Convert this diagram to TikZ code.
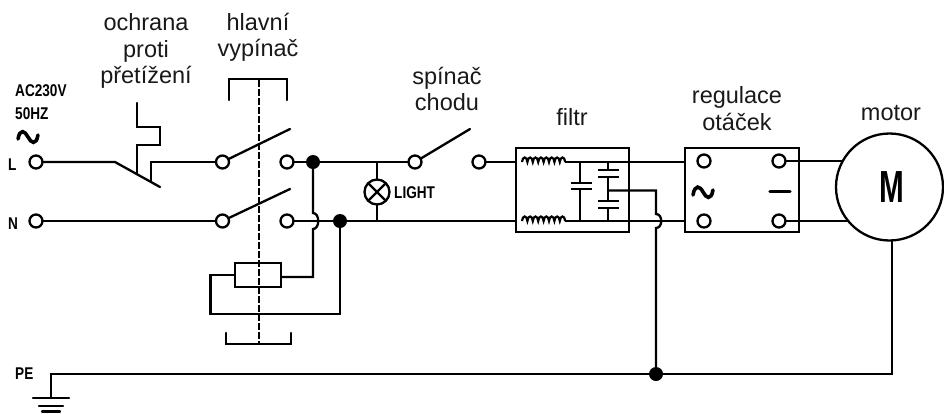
\documentclass[tikz,border=0pt]{standalone}
\usepackage{fontspec}
\setmainfont{Liberation Sans}
\newcommand{\lbl}{\fontsize{23.5}{26}\selectfont}
\newcommand{\bsm}[1]{\scalebox{0.8}[1]{\fontsize{17}{19}\selectfont\bfseries #1}}
\tikzset{
  wire/.style={line width=2.3pt,line cap=round,line join=miter},
  thinwire/.style={line width=2pt,line cap=butt},
  term/.style={circle,draw,line width=2.3pt,fill=white,minimum size=13pt,inner sep=0pt,outer sep=0pt},
  dotnode/.style={circle,fill=black,minimum size=14pt,inner sep=0pt,outer sep=0pt},
  caption/.style={anchor=base,inner sep=0pt,text=black!90,font=\lbl},
  tag/.style={anchor=base west,inner sep=0pt},
  boxrect/.style={draw,line width=2.4pt,minimum width=0pt,inner sep=0pt},
  plate/.style={line width=2.2pt},
  mechanical/.style={line width=1.1pt,dash pattern=on 7pt off 2pt}
}
\begin{document}
\begin{tikzpicture}[x=1pt,y=-1pt]
\useasboundingbox (0,0) rectangle (944,413);
% mechanical link
\coordinate (mt) at (259,80); \coordinate (mb) at (259,343);
\draw[mechanical] (mt) -- (mb);
\draw[wire] (229,100) -- (229,79) -- (287,79) -- (287,100);
\draw[wire] (226,333) -- (226,344) -- (291,344) -- (291,333);
% terminals
\node[term] (L) at (36,162) {};
\node[term] (N) at (36,221) {};
\node[term] (s1a) at (222.5,162) {};
\node[term] (s1b) at (287,162) {};
\node[term] (s2a) at (222.5,221) {};
\node[term] (s2b) at (287,221) {};
\node[term] (s3a) at (415,162) {};
\node[term] (s3b) at (479,162) {};
\node[dotnode] (j1) at (313,162) {};
\node[dotnode] (j2) at (340,221) {};
\node[dotnode] (j3) at (656,374) {};
% overload protection
\coordinate (ol1) at (115,162); \coordinate (ol2) at (160,187);
\draw[wire] (L) -- (ol1) -- (ol2);
\draw[wire] (137,103) -- (137,127) -- (160,127) -- (160,145) -- (137,145) -- (137,174);
\draw[wire] (151,181) -- (151,162) -- (s1a);
\draw[wire] (N) -- (s2a);
% switches
\draw[wire] (s1a) -- (290,129);
\draw[wire] (s2a) -- (290,189);
\draw[wire] (s3a) -- (470,129);
% main lines
\draw[wire] (s1b) -- (j1) -- (s3a);
\draw[wire] (s2b) -- (j2) -- (516,221);
\draw[wire] (s3b) -- (516,162);
% jump to heater
\node[boxrect,minimum width=46pt,minimum height=24pt] (R) at (258,275) {};
\draw[wire] (j1) -- (313,213) .. controls (320,213) and (320,229) .. (313,229) -- (313,277) -- (R.east |- 0,277);
\draw[wire] (R.west) -- (210.5,275) -- (210.5,314) -- (340,314) -- (j2);
% lamp
\node[circle,draw,line width=2.3pt,fill=white,minimum size=25pt,inner sep=0pt,outer sep=0pt] (lamp) at (377,192) {};
\draw[wire,line cap=butt] (377,162) -- (lamp.north);
\draw[wire,line cap=butt] (lamp.south) -- (377,221);
\draw[wire,line cap=butt] (lamp.north west) -- (lamp.south east);
\draw[wire,line cap=butt] (lamp.north east) -- (lamp.south west);
% filter
\node[boxrect,minimum width=113pt,minimum height=84pt] (F) at (572.5,190) {};
\foreach \yy in {162,221}{
  \draw[line width=2.2pt] (522,\yy)
    \foreach \i in {1,...,8}{ .. controls +(0.5,-6) and +(-0.5,-6) .. +(5.4,0) .. controls +(0.3,0) and +(-0.3,0) .. ++(5.4,0) };
  \draw[wire,line cap=butt] (565,\yy) -- (685,\yy);
}
\draw[thinwire] (580,162) -- (580,183);
\draw[plate] (571,183) -- (592,183);
\draw[plate] (571,189) -- (592,189);
\draw[thinwire] (580,189) -- (580,221);
\draw[thinwire] (608,162) -- (608,170);
\draw[plate] (598,170) -- (619,170);
\draw[plate] (598,177) -- (619,177);
\draw[thinwire] (608,177) -- (608,201);
\draw[plate] (598,201) -- (619,201);
\draw[plate] (598,208) -- (619,208);
\draw[thinwire] (608,208) -- (608,221);
\draw[wire] (608,190.5) -- (656,190.5) -- (656,214) .. controls (663,214) and (663,228) .. (656,228) -- (j3);
% regulator
\node[boxrect,minimum width=114pt,minimum height=84pt] (Reg) at (742,190) {};
\node[term] (r1) at (704,161) {};
\node[term] (r2) at (779,161) {};
\node[term] (r3) at (704,221) {};
\node[term] (r4) at (779,221) {};
\draw[line width=3.6pt,line cap=round] (693,195) .. controls (695,184) and (700,186) .. (703,192) .. controls (706,198) and (711,201) .. (713,190);
\draw[line width=3.4pt,line cap=round] (770,191.5) -- (790,191.5);
% motor
\node[circle,draw,line width=2.3pt,minimum size=107pt,inner sep=0pt,outer sep=0pt] (M) at (889.5,187) {};
\node[inner sep=0pt] (Mt) at (892,187) {\scalebox{0.66}[1]{\fontsize{45}{45}\selectfont\bfseries M}};
\draw[wire,line cap=butt] (r2) -- (842.7,161);
\draw[wire,line cap=butt] (r4) -- (848,221);
% PE
\coordinate (pe) at (51,374);
\coordinate (gnd) at (51,398);
\draw[wire] (gnd) -- (pe) -- (j3) -- (892,374) -- (892,241);
\draw[wire] (33,398) -- (69,398);
\draw[wire] (39,406) -- (63,406);
\draw[wire] (42,411.5) -- (60,411.5);
% source tilde
\draw[line width=3.6pt,line cap=round] (18,139) .. controls (20,128) and (25,131) .. (28,137) .. controls (31,143) and (36,146) .. (38,135);
% texts
\node[caption] (t1) at (146,30) {ochrana};
\node[caption] (t2) at (146,57) {proti};
\node[caption] (t3) at (146,83) {přetížení};
\node[caption] (t4) at (258,30) {hlavní};
\node[caption] (t5) at (258,56) {vypínač};
\node[caption] (t6) at (447,84) {spínač};
\node[caption] (t7) at (447,110) {chodu};
\node[caption] (t8) at (572,125) {filtr};
\node[caption] (t9) at (737,103) {regulace};
\node[caption] (t10) at (737,130) {otáček};
\node[caption] (t11) at (891,120) {motor};
\node[tag] (a1) at (15,96) {\bsm{AC230V}};
\node[tag] (a2) at (15,119) {\bsm{50HZ}};
\node[tag] (a3) at (8,170) {\bsm{L}};
\node[tag] (a4) at (8,229) {\bsm{N}};
\node[tag] (a5) at (15,379) {\bsm{PE}};
\node[tag] (a6) at (394,198) {\bsm{LIGHT}};
\end{tikzpicture}
\end{document}
